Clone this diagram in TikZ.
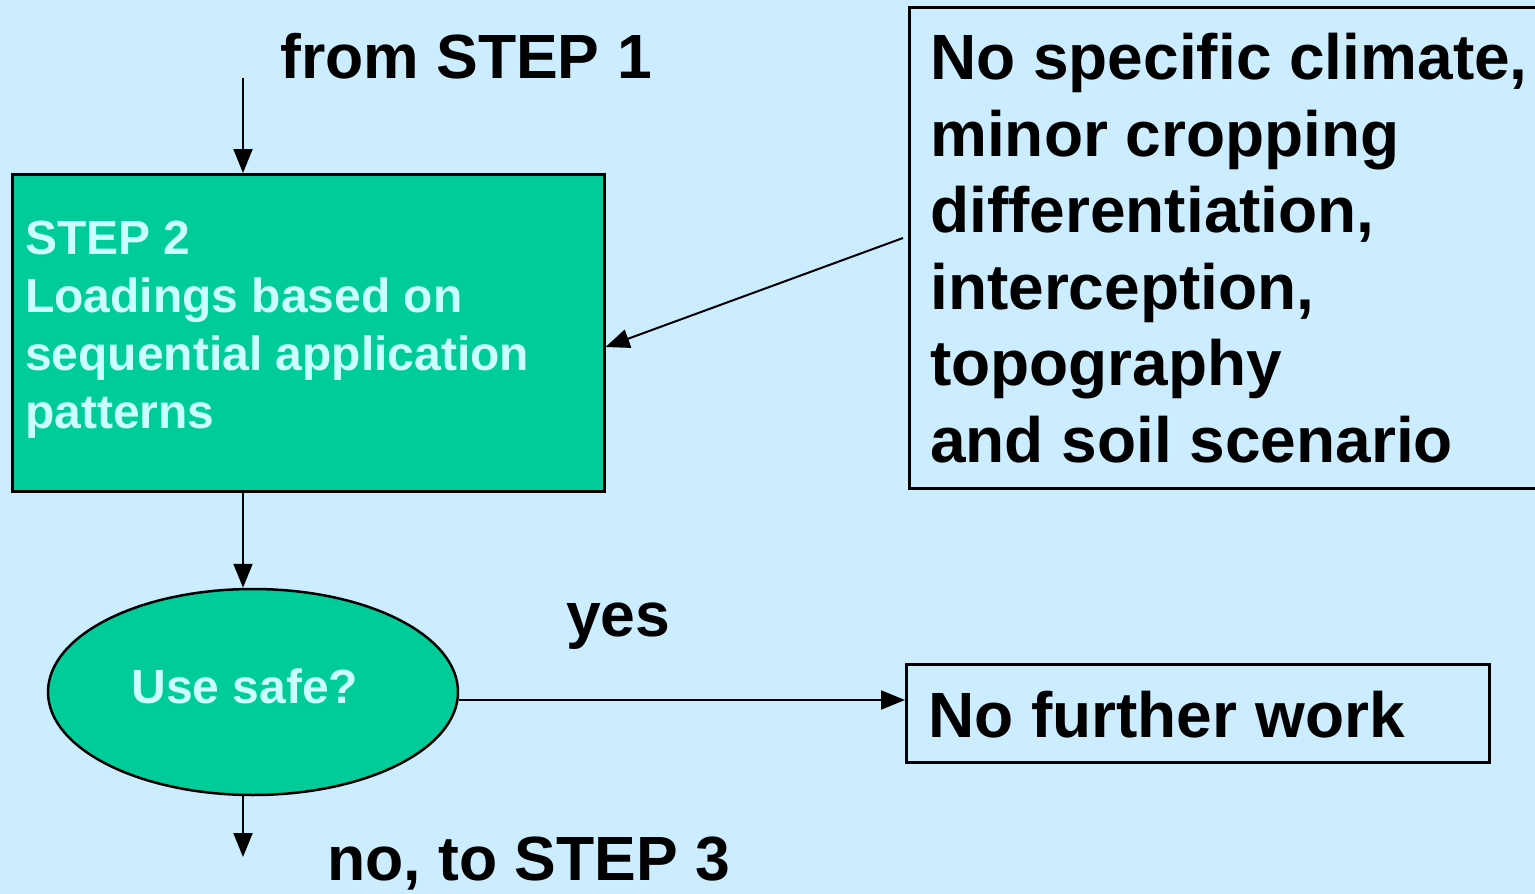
\documentclass[tikz,border=0pt]{standalone}
\usepackage{fontspec}
\setmainfont{Liberation Sans}
\usetikzlibrary{arrows.meta,shapes.geometric}
\definecolor{bg}{HTML}{CCECFF}
\definecolor{stepgreen}{HTML}{00CC99}
\definecolor{lighttext}{HTML}{CCFFFF}
\begin{document}
\begin{tikzpicture}[x=1pt,y=-1pt,
  box/.style={draw=black, line width=2.5pt, inner sep=0pt, anchor=north west},
  conn/.style={draw=black, line width=2pt, -{Triangle[length=24pt,width=19pt]}},
  bigtext/.style={font=\fontsize{64}{76.6}\selectfont\bfseries, text=black, inner sep=0pt, align=left},
  labeltext/.style={font=\fontsize{62.5}{76.6}\selectfont\bfseries, text=black, inner sep=0pt},
  smalltext/.style={font=\fontsize{48}{58}\selectfont\bfseries, text=lighttext, inner sep=0pt, align=left}]
\fill[bg] (0,0) rectangle (1535,894);
\useasboundingbox (0,0) rectangle (1535,894);
% shapes
\node[box, fill=stepgreen, minimum width=592pt, minimum height=317pt] (step) at (11,173) {};
\node[box, minimum width=640pt, minimum height=481pt] (cond) at (908,6) {};
\node[box, minimum width=583pt, minimum height=98pt] (nfw) at (905,663) {};
\node[draw=black, line width=2.5pt, fill=stepgreen, ellipse, inner sep=0pt,
      minimum width=410pt, minimum height=206pt] (safe) at (253,692) {};
% texts
\node[labeltext, anchor=base west] (from) at (280,78) {from STEP 1};
\node[labeltext, anchor=base west] (yes) at (566,636) {yes};
\node[labeltext, anchor=base west] (no) at (327,880) {no, to STEP 3};
\node[bigtext, anchor=base west] (nfwtext) at (928,737) {No further work};
\node[smalltext, anchor=base] (usesafe) at (245,703) {Use safe?};
\node[bigtext, anchor=north west] (condtext) at (930,33) {No specific climate,\\minor cropping\\differentiation,\\interception,\\topography\\and soil scenario};
\node[smalltext, anchor=north west] (steptext) at (25,221) {STEP 2\\Loadings based on\\sequential application\\patterns};
% connectors
\coordinate (in1) at (243,78);
\coordinate (out3) at (243,857);
\coordinate (c3) at (903,238);
\coordinate (stepin) at (605,347);
\coordinate (yline) at (0,700);
\draw[conn] (in1) -- (in1 |- step.north);
\draw[conn] (in1 |- step.south) -- (in1 |- safe.north);
\draw[conn] (c3) -- (step.east |- stepin);
\draw[conn] (safe.east |- yline) -- (nfw.west |- yline);
\draw[conn] (in1 |- safe.south) -- (out3);
\end{tikzpicture}
\end{document}
